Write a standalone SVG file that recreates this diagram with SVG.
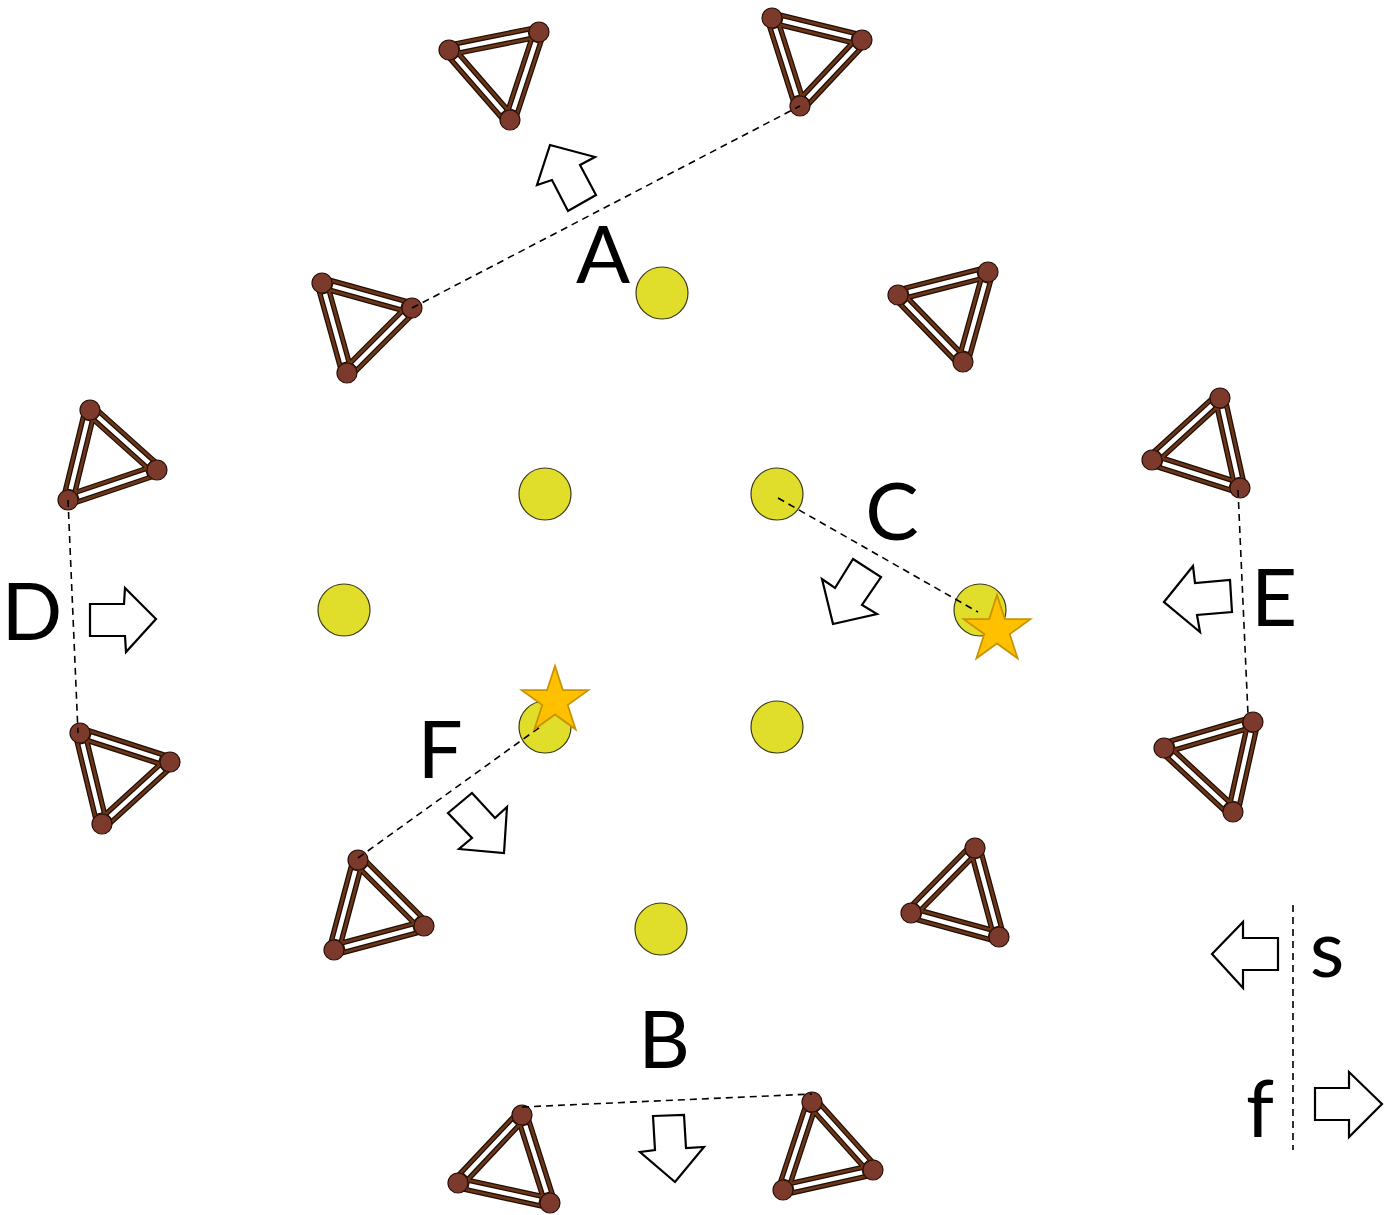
<svg xmlns="http://www.w3.org/2000/svg" xmlns:xlink="http://www.w3.org/1999/xlink" width="1394" height="1215" viewBox="0 0 1394 1215">
<style>
.b1{stroke:#1e0e05;stroke-width:15;fill:none}
.b2{stroke:#6b3517;stroke-width:12.5;fill:none}
.b3{stroke:#1e0e05;stroke-width:7;fill:none;stroke-dasharray:0 11 78 11}
.b4{stroke:#ffffff;stroke-width:4.4;fill:none;stroke-dasharray:0 12 76 12}
.v{fill:#7b3a2b;stroke:#2a1008;stroke-width:1.2}
.y{fill:#e1dd2b;stroke:#3a3a1a;stroke-width:1.2}
.st{fill:#ffc000;stroke:#c99400;stroke-width:1.8}
.ar{fill:#ffffff;stroke:#000;stroke-width:2.2;stroke-linejoin:miter}
.dl{stroke:#000;stroke-width:1.6;stroke-dasharray:7 5;fill:none}
.lb{font-family:Lato,"Liberation Sans",sans-serif;font-size:80px;fill:#000;text-anchor:middle}
</style>
<defs>
<g id="e1"><line x1="449" y1="50" x2="539" y2="32" pathLength="100"/><line x1="539" y1="32" x2="510" y2="120" pathLength="100"/><line x1="510" y1="120" x2="449" y2="50" pathLength="100"/></g>
<g id="e2"><line x1="772" y1="18" x2="862" y2="40" pathLength="100"/><line x1="862" y1="40" x2="800" y2="106" pathLength="100"/><line x1="800" y1="106" x2="772" y2="18" pathLength="100"/></g>
<g id="e3"><line x1="322" y1="283" x2="412" y2="308" pathLength="100"/><line x1="412" y1="308" x2="347" y2="373" pathLength="100"/><line x1="347" y1="373" x2="322" y2="283" pathLength="100"/></g>
<g id="e4"><line x1="898" y1="295" x2="988" y2="272" pathLength="100"/><line x1="988" y1="272" x2="963" y2="362" pathLength="100"/><line x1="963" y1="362" x2="898" y2="295" pathLength="100"/></g>
<g id="e5"><line x1="90" y1="410" x2="157" y2="470" pathLength="100"/><line x1="157" y1="470" x2="68" y2="500" pathLength="100"/><line x1="68" y1="500" x2="90" y2="410" pathLength="100"/></g>
<g id="e6"><line x1="1220" y1="398" x2="1152" y2="460" pathLength="100"/><line x1="1152" y1="460" x2="1240" y2="488" pathLength="100"/><line x1="1240" y1="488" x2="1220" y2="398" pathLength="100"/></g>
<g id="e7"><line x1="80" y1="733" x2="170" y2="762" pathLength="100"/><line x1="170" y1="762" x2="102" y2="824" pathLength="100"/><line x1="102" y1="824" x2="80" y2="733" pathLength="100"/></g>
<g id="e8"><line x1="1164" y1="748" x2="1253" y2="722" pathLength="100"/><line x1="1253" y1="722" x2="1233" y2="812" pathLength="100"/><line x1="1233" y1="812" x2="1164" y2="748" pathLength="100"/></g>
<g id="e9"><line x1="358" y1="860" x2="424" y2="926" pathLength="100"/><line x1="424" y1="926" x2="334" y2="950" pathLength="100"/><line x1="334" y1="950" x2="358" y2="860" pathLength="100"/></g>
<g id="e10"><line x1="975" y1="848" x2="999" y2="937" pathLength="100"/><line x1="999" y1="937" x2="911" y2="913" pathLength="100"/><line x1="911" y1="913" x2="975" y2="848" pathLength="100"/></g>
<g id="e11"><line x1="522" y1="1115" x2="458" y2="1183" pathLength="100"/><line x1="458" y1="1183" x2="550" y2="1203" pathLength="100"/><line x1="550" y1="1203" x2="522" y2="1115" pathLength="100"/></g>
<g id="e12"><line x1="812" y1="1102" x2="873" y2="1170" pathLength="100"/><line x1="873" y1="1170" x2="783" y2="1190" pathLength="100"/><line x1="783" y1="1190" x2="812" y2="1102" pathLength="100"/></g>
<polygon id="star" points="0,-35 7.9,-10.8 33.3,-10.8 12.7,4.1 20.6,28.3 0,13.4 -20.6,28.3 -12.7,4.1 -33.3,-10.8 -7.9,-10.8"/>
</defs>
<rect width="1394" height="1215" fill="#ffffff"/>

<g id="triangle-1"><use href="#e1" class="b1"/><use href="#e1" class="b2"/><use href="#e1" class="b3"/><use href="#e1" class="b4"/><circle class="v" cx="449" cy="50" r="10"/><circle class="v" cx="539" cy="32" r="10"/><circle class="v" cx="510" cy="120" r="10"/></g>
<g id="triangle-2"><use href="#e2" class="b1"/><use href="#e2" class="b2"/><use href="#e2" class="b3"/><use href="#e2" class="b4"/><circle class="v" cx="772" cy="18" r="10"/><circle class="v" cx="862" cy="40" r="10"/><circle class="v" cx="800" cy="106" r="10"/></g>
<g id="triangle-3"><use href="#e3" class="b1"/><use href="#e3" class="b2"/><use href="#e3" class="b3"/><use href="#e3" class="b4"/><circle class="v" cx="322" cy="283" r="10"/><circle class="v" cx="412" cy="308" r="10"/><circle class="v" cx="347" cy="373" r="10"/></g>
<g id="triangle-4"><use href="#e4" class="b1"/><use href="#e4" class="b2"/><use href="#e4" class="b3"/><use href="#e4" class="b4"/><circle class="v" cx="898" cy="295" r="10"/><circle class="v" cx="988" cy="272" r="10"/><circle class="v" cx="963" cy="362" r="10"/></g>
<g id="triangle-5"><use href="#e5" class="b1"/><use href="#e5" class="b2"/><use href="#e5" class="b3"/><use href="#e5" class="b4"/><circle class="v" cx="90" cy="410" r="10"/><circle class="v" cx="157" cy="470" r="10"/><circle class="v" cx="68" cy="500" r="10"/></g>
<g id="triangle-6"><use href="#e6" class="b1"/><use href="#e6" class="b2"/><use href="#e6" class="b3"/><use href="#e6" class="b4"/><circle class="v" cx="1220" cy="398" r="10"/><circle class="v" cx="1152" cy="460" r="10"/><circle class="v" cx="1240" cy="488" r="10"/></g>
<g id="triangle-7"><use href="#e7" class="b1"/><use href="#e7" class="b2"/><use href="#e7" class="b3"/><use href="#e7" class="b4"/><circle class="v" cx="80" cy="733" r="10"/><circle class="v" cx="170" cy="762" r="10"/><circle class="v" cx="102" cy="824" r="10"/></g>
<g id="triangle-8"><use href="#e8" class="b1"/><use href="#e8" class="b2"/><use href="#e8" class="b3"/><use href="#e8" class="b4"/><circle class="v" cx="1164" cy="748" r="10"/><circle class="v" cx="1253" cy="722" r="10"/><circle class="v" cx="1233" cy="812" r="10"/></g>
<g id="triangle-9"><use href="#e9" class="b1"/><use href="#e9" class="b2"/><use href="#e9" class="b3"/><use href="#e9" class="b4"/><circle class="v" cx="358" cy="860" r="10"/><circle class="v" cx="424" cy="926" r="10"/><circle class="v" cx="334" cy="950" r="10"/></g>
<g id="triangle-10"><use href="#e10" class="b1"/><use href="#e10" class="b2"/><use href="#e10" class="b3"/><use href="#e10" class="b4"/><circle class="v" cx="975" cy="848" r="10"/><circle class="v" cx="999" cy="937" r="10"/><circle class="v" cx="911" cy="913" r="10"/></g>
<g id="triangle-11"><use href="#e11" class="b1"/><use href="#e11" class="b2"/><use href="#e11" class="b3"/><use href="#e11" class="b4"/><circle class="v" cx="522" cy="1115" r="10"/><circle class="v" cx="458" cy="1183" r="10"/><circle class="v" cx="550" cy="1203" r="10"/></g>
<g id="triangle-12"><use href="#e12" class="b1"/><use href="#e12" class="b2"/><use href="#e12" class="b3"/><use href="#e12" class="b4"/><circle class="v" cx="812" cy="1102" r="10"/><circle class="v" cx="873" cy="1170" r="10"/><circle class="v" cx="783" cy="1190" r="10"/></g>

<g id="dots">
<circle class="y" cx="662" cy="293" r="26"/>
<circle class="y" cx="545" cy="494" r="26"/>
<circle class="y" cx="777" cy="494" r="26"/>
<circle class="y" cx="344" cy="610" r="26"/>
<circle class="y" cx="980" cy="610" r="26"/>
<circle class="y" cx="545" cy="727" r="26"/>
<circle class="y" cx="777" cy="727" r="26"/>
<circle class="y" cx="661" cy="929" r="26"/>
</g>

<g id="connectors">
<line class="dl" x1="412" y1="308" x2="800" y2="106"/>
<line class="dl" x1="778" y1="498" x2="978" y2="612"/>
<line class="dl" x1="68" y1="500" x2="78" y2="733"/>
<line class="dl" x1="1238" y1="490" x2="1248" y2="715"/>
<line class="dl" x1="358" y1="858" x2="540" y2="727"/>
<line class="dl" x1="522" y1="1107" x2="812" y2="1094"/>
<line class="dl" x1="1293" y1="905" x2="1293" y2="1150"/>
</g>

<g id="stars">
<use href="#star" class="st" transform="translate(997,630)"/>
<use href="#star" class="st" transform="translate(555,701)"/>
</g>

<g id="arrows">
<polygon class="ar" points="550,145 595,157 580,165 596,195 568,211 552,180 537,185"/>
<polygon class="ar" points="853,559 881,577 862,605 877,614 833,624 822,579 835,588"/>
<polygon class="ar" points="448,813 472,793 495,818 507,807 504,853 459,849 472,838"/>
<polygon class="ar" points="653,1116 684,1115 686,1148 704,1147 675,1182 640,1152 655,1150"/>
<polygon class="ar" points="1164,602 1193,566 1195,583 1230,580 1232,612 1197,615 1200,632"/>
<polygon class="ar" points="90,604 124,604 125,588 156,619 126,652 125,636 90,636"/>
<polygon class="ar" points="1212,954 1243,922 1243,938 1278,938 1278,970 1243,970 1243,988"/>
<polygon class="ar" points="1315,1088 1349,1088 1349,1072 1382,1104 1349,1137 1349,1120 1315,1120"/>
</g>

<g id="labels">
<text class="lb" x="603" y="283">A</text>
<text class="lb" x="892" y="540">C</text>
<text class="lb" x="32" y="640">D</text>
<text class="lb" x="1274" y="626">E</text>
<text class="lb" x="440" y="778">F</text>
<text class="lb" x="664" y="1068">B</text>
<text class="lb" x="1327" y="977">s</text>
<text class="lb" x="1260" y="1137">f</text>
</g>
</svg>
